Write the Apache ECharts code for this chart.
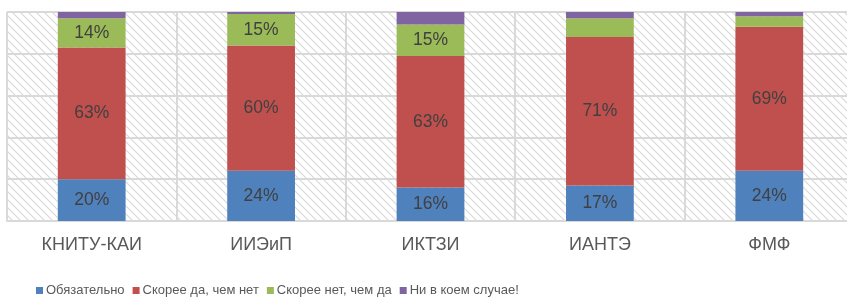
<!DOCTYPE html>
<html>
<head>
<meta charset="utf-8">
<script src="https://cdn.jsdelivr.net/npm/echarts@6/dist/echarts.min.js"></script>
<style>
    html, body { margin: 0; padding: 0; background: #fff; overflow: hidden; }
    /* plot area runs past the right edge of the picture, as in the reference */
    #chart { width: 854px; height: 300px; }
</style>
</head>
<body>
<div id="chart"></div>
<script>
    var categories = ["КНИТУ-КАИ", "ИИЭиП", "ИКТЗИ", "ИАНТЭ", "ФМФ"];
    var seriesNames = ["Обязательно", "Скорее да, чем нет", "Скорее нет, чем да", "Ни в коем случае!"];
    var mandatory = [20, 24, 16, 17, 24];
    var ratherYes = [63, 60, 63, 71, 69];
    var ratherNo = [14, 15, 15, 9, 5];
    var never = [3, 1, 6, 3, 2];
    var colors = ["#4f81bd", "#c0504d", "#9bbb59", "#8064a2"];

    // diagonal hatch for plot background
    var hatch = document.createElement("canvas");
    hatch.width = 8;
    hatch.height = 8;
    var ctx = hatch.getContext("2d");
    ctx.fillStyle = "#ffffff";
    ctx.fillRect(0, 0, 8, 8);
    ctx.strokeStyle = "#d9d9d9";
    ctx.lineWidth = 1.2;
    ctx.beginPath();
    ctx.moveTo(-2, -2); ctx.lineTo(10, 10);
    ctx.moveTo(-2, 6); ctx.lineTo(2, 10);
    ctx.moveTo(6, -2); ctx.lineTo(10, 2);
    ctx.stroke();

    var chart = echarts.init(document.getElementById("chart"));

    function makeSeries(name, data, color) {
        return {
            name: name,
            type: "bar",
            stack: "total",
            barWidth: "40%",
            itemStyle: { color: color },
            label: {
                show: true,
                position: "inside",
                color: "#404040",
                fontSize: 17.5,
                fontFamily: "Liberation Sans",
                formatter: function (p) {
                    return p.value >= 10 ? p.value + "%" : "";
                }
            },
            data: data
        };
    }

    chart.setOption({
        animation: false,
        grid: {
            left: 7,
            right: 0,
            top: 12,
            bottom: 79,
            show: true,
            borderWidth: 0,
            backgroundColor: { image: hatch, repeat: "repeat" }
        },
        legend: {
            top: 279,
            left: 31,
            itemWidth: 7,
            itemHeight: 7,
            itemGap: 8,
            icon: "rect",
            textStyle: { color: "#595959", fontSize: 13, fontFamily: "Liberation Sans", padding: [0, 0, 0, -2] },
            data: seriesNames
        },
        xAxis: {
            type: "category",
            data: categories,
            axisLine: { show: true, lineStyle: { color: "#d9d9d9", width: 2 } },
            axisTick: { show: false },
            axisLabel: { color: "#595959", fontSize: 18, fontFamily: "Liberation Sans", margin: 15 },
            splitLine: { show: true, lineStyle: { color: "#d9d9d9", width: 2 } }
        },
        yAxis: {
            type: "value",
            min: 0,
            max: 100,
            interval: 20,
            axisLabel: { show: false },
            axisLine: { show: false },
            axisTick: { show: false },
            splitLine: { show: true, lineStyle: { color: "#d9d9d9", width: 2 } }
        },
        series: [
            makeSeries(seriesNames[0], mandatory, colors[0]),
            makeSeries(seriesNames[1], ratherYes, colors[1]),
            makeSeries(seriesNames[2], ratherNo, colors[2]),
            makeSeries(seriesNames[3], never, colors[3])
        ]
    });
</script>
</body>
</html>
